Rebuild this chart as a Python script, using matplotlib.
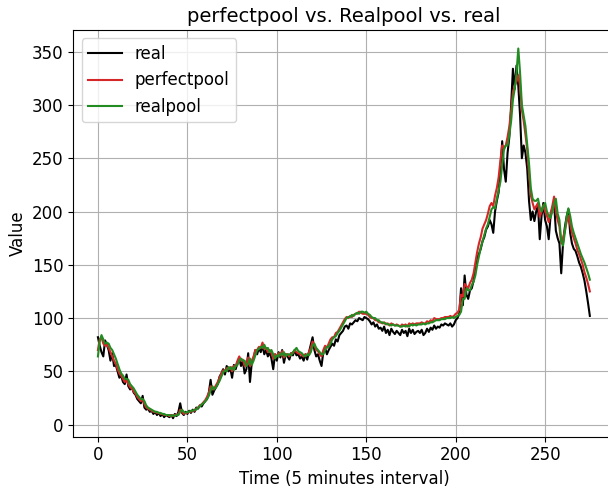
import numpy as np
import matplotlib
matplotlib.use('Agg')
import matplotlib.pyplot as plt

plt.rcParams['font.size'] = 12

# traffic per 5-minute slot
real = [
    82, 74, 68, 64, 79, 75, 70, 60, 67, 55,
    56, 50, 44, 46, 40, 38, 47, 36, 33, 35,
    30, 28, 24, 22, 20, 27, 16, 14, 15, 12,
    13, 10, 12, 9, 11, 8, 10, 7, 9, 8,
    7, 9, 6, 10, 8, 12, 20, 11, 9, 12,
    10, 13, 11, 14, 12, 16, 15, 18, 17, 20,
    22, 24, 30, 42, 28, 32, 35, 38, 45, 48,
    52, 47, 55, 50, 53, 44, 56, 52, 58, 62,
    55, 60, 48, 52, 67, 40, 58, 62, 70, 66,
    72, 68, 74, 66, 70, 64, 68, 62, 52, 66,
    60, 68, 63, 70, 58, 66, 64, 61, 67, 65,
    70, 65, 66, 62, 64, 60, 66, 61, 68, 75,
    82, 70, 64, 66, 60, 55, 68, 72, 66, 70,
    73, 76, 74, 80, 78, 84, 86, 88, 92, 93,
    90, 95, 94, 96, 98, 97, 100, 99, 98, 101,
    100, 99, 97, 94, 96, 92, 94, 90, 91, 88,
    92, 86, 89, 84, 90, 87, 85, 88, 86, 84,
    89, 86, 88, 83, 90, 86, 89, 85, 87, 88,
    86, 89, 84, 86, 90, 87, 91, 89, 93, 90,
    92, 91, 94, 93, 95, 94, 93, 95, 92, 94,
    98, 100, 104, 128, 112, 140, 122, 118, 126, 128,
    135, 148, 157, 160, 165, 172, 176, 183, 186, 192,
    188, 180, 200, 210, 218, 240, 266, 240, 228, 255,
    270, 300, 334, 315, 337, 318, 290, 250, 262, 255,
    240, 210, 192, 200, 191, 200, 206, 174, 196, 208,
    192, 186, 174, 195, 203, 208, 182, 175, 170, 142,
    170, 185, 195, 202, 180, 170, 165, 163, 158, 152,
    148, 142, 135, 125, 114, 102,
]

perfectpool = [
    70, 80, 82, 76, 74, 75, 72, 68, 64, 60,
    57, 52, 48, 46, 43, 40, 42, 38, 35, 34,
    31, 29, 26, 24, 22, 24, 19, 16, 15, 14,
    13, 12, 12, 11, 11, 10, 10, 9, 9, 9,
    8, 9, 8, 9, 9, 10, 14, 12, 10, 11,
    11, 12, 12, 13, 13, 15, 16, 18, 19, 21,
    23, 26, 30, 36, 33, 34, 37, 40, 44, 48,
    51, 50, 53, 52, 54, 50, 55, 55, 60, 64,
    60, 61, 55, 56, 63, 55, 60, 64, 70, 70,
    73, 72, 77, 71, 72, 68, 70, 67, 62, 66,
    64, 67, 65, 69, 63, 66, 66, 64, 67, 67,
    70, 68, 67, 66, 65, 64, 66, 65, 68, 72,
    78, 74, 70, 69, 66, 64, 70, 74, 72, 76,
    80, 82, 82, 86, 87, 90, 93, 96, 99, 101,
    100, 102, 101, 103, 104, 104, 106, 105, 104, 104,
    104, 103, 101, 100, 100, 98, 98, 96, 96, 95,
    96, 94, 95, 93, 95, 94, 93, 94, 93, 92,
    94, 93, 94, 92, 95, 94, 95, 94, 95, 95,
    95, 96, 95, 95, 97, 96, 98, 97, 100, 99,
    99, 99, 100, 100, 101, 101, 101, 102, 101, 102,
    104, 105, 108, 122, 120, 132, 130, 128, 133, 136,
    142, 152, 162, 170, 176, 184, 188, 192, 198, 205,
    208, 205, 215, 222, 232, 248, 262, 260, 262, 270,
    280, 295, 312, 318, 322, 328, 318, 295, 285, 272,
    258, 235, 215, 208, 202, 205, 208, 195, 200, 206,
    200, 196, 190, 198, 205, 214, 200, 192, 186, 170,
    175, 182, 190, 196, 188, 180, 175, 170, 164, 160,
    155, 150, 143, 138, 132, 125,
]

realpool = [
    64, 78, 84, 80, 76, 77, 76, 72, 70, 66,
    62, 57, 52, 48, 46, 43, 43, 42, 38, 36,
    34, 31, 28, 26, 24, 24, 22, 18, 16, 15,
    14, 13, 12, 12, 11, 11, 10, 10, 9, 9,
    9, 8, 9, 8, 9, 9, 12, 14, 12, 11,
    12, 12, 13, 13, 14, 14, 16, 17, 19, 20,
    22, 24, 27, 32, 36, 33, 35, 38, 41, 45,
    49, 51, 50, 54, 52, 54, 51, 55, 56, 60,
    62, 60, 60, 55, 57, 62, 56, 60, 65, 70,
    71, 73, 72, 75, 71, 72, 68, 70, 66, 62,
    65, 64, 67, 65, 68, 64, 66, 66, 65, 68,
    70, 72, 69, 68, 67, 65, 64, 66, 65, 68,
    74, 76, 72, 70, 68, 66, 66, 70, 73, 73,
    76, 80, 82, 83, 86, 88, 91, 94, 97, 100,
    101, 101, 103, 102, 104, 105, 104, 106, 106, 105,
    106, 104, 103, 101, 100, 100, 98, 98, 96, 96,
    95, 95, 94, 94, 93, 94, 93, 93, 93, 92,
    92, 93, 92, 93, 92, 94, 93, 94, 93, 94,
    94, 94, 95, 94, 95, 95, 96, 96, 97, 98,
    98, 98, 99, 99, 99, 100, 100, 100, 101, 100,
    101, 102, 103, 106, 118, 118, 128, 126, 126, 131,
    134, 140, 150, 158, 166, 172, 178, 184, 188, 195,
    202, 204, 203, 212, 220, 228, 244, 258, 262, 262,
    272, 285, 305, 315, 330, 353, 330, 300, 290, 280,
    262, 245, 222, 212, 210, 210, 212, 204, 200, 205,
    208, 200, 196, 194, 200, 207, 212, 198, 192, 172,
    168, 180, 195, 203, 196, 186, 180, 175, 170, 165,
    160, 156, 152, 147, 142, 136,
]

t = np.arange(len(real))

fig = plt.figure(figsize=(6.08, 4.92), dpi=100)
ax = fig.add_axes([0.1206, 0.1124, 0.890, 0.8266])
ax.plot(t, real, color='black', label='real')
ax.plot(t, perfectpool, color='tab:red', label='perfectpool')
ax.plot(t, realpool, color='forestgreen', label='realpool')
ax.set_title('perfectpool vs. Realpool vs. real', fontsize=14)
ax.set_xlabel('Time (5 minutes interval)')
ax.set_ylabel('Value')
ax.legend(loc='upper left')
ax.grid(True)
fig.savefig('out.png', dpi=100)
